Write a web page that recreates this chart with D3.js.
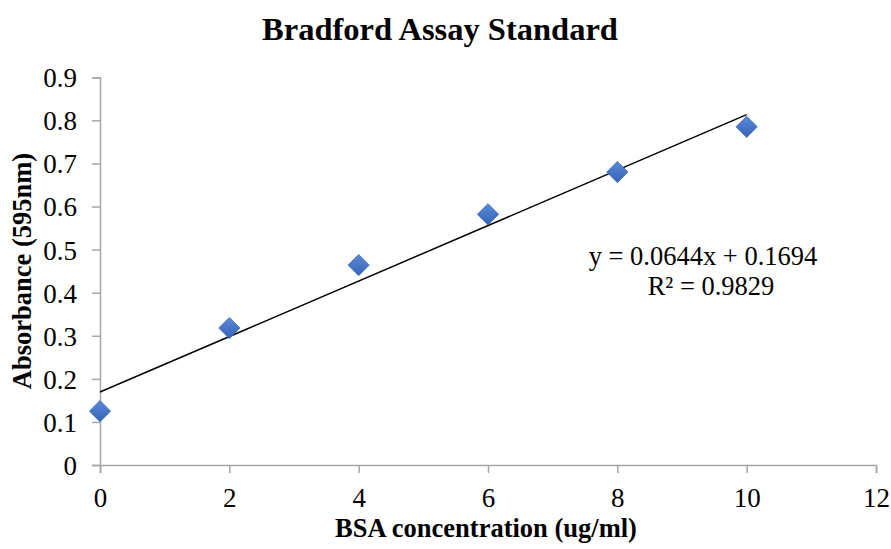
<!DOCTYPE html>
<html><head><meta charset="utf-8">
<script src="https://cdn.jsdelivr.net/npm/d3@7"></script>
<style>body{margin:0;background:#fff}svg{display:block}text{font-family:"Liberation Serif","Times New Roman",serif;fill:#000}</style>
</head><body><svg id="c" width="891" height="549"></svg>
<script>
const concentrations = [0, 2, 4, 6, 8, 10];
const absorbance = [0.125, 0.318, 0.464, 0.582, 0.680, 0.785];
const xTicks = [0, 2, 4, 6, 8, 10, 12];
const yTicks = [0, 0.1, 0.2, 0.3, 0.4, 0.5, 0.6, 0.7, 0.8, 0.9];
const trendSlope = 0.0644, trendIntercept = 0.1694, rSquared = 0.9829;
const trendRange = [0, 10];

const svg = d3.select("#c");
const x = d3.scaleLinear().domain([0, 12]).range([100, 876]);
const y = d3.scaleLinear().domain([0, 0.9]).range([465, 77.3]);
const axisColor = "#a6a6a6";

const xa = svg.append("g").attr("transform", `translate(0,${y(0)})`)
  .call(d3.axisBottom(x).tickValues(xTicks).tickSize(8).tickPadding(10).tickFormat(d3.format("d")));
const ya = svg.append("g").attr("transform", `translate(${x(0)},0)`)
  .call(d3.axisLeft(y).tickValues(yTicks).tickSize(8).tickPadding(15).tickFormat(d => d === 0 ? "0" : d3.format(".1f")(d)));
[xa, ya].forEach(g => {
  g.attr("font-size", null).attr("font-family", null);
  g.selectAll("path.domain").attr("stroke", axisColor).attr("stroke-width", 1.5);
  g.selectAll(".tick line").attr("stroke", axisColor).attr("stroke-width", 1.5);
  g.selectAll(".tick text").style("font-size", "27px").attr("fill", "#000");
});
ya.selectAll(".tick text").attr("dy", "0.35em");
xa.selectAll(".tick text").attr("dy", "0.9em");

// trendline
svg.append("line")
  .attr("x1", x(trendRange[0])).attr("y1", y(trendSlope * trendRange[0] + trendIntercept))
  .attr("x2", x(trendRange[1])).attr("y2", y(trendSlope * trendRange[1] + trendIntercept))
  .attr("stroke", "#000").attr("stroke-width", 1.5);

// markers
const defs = svg.append("defs");
const grad = defs.append("linearGradient").attr("id", "g").attr("x1", 0).attr("y1", 0).attr("x2", 0).attr("y2", 1);
grad.append("stop").attr("offset", "0%").attr("stop-color", "#5a8ad8");
grad.append("stop").attr("offset", "100%").attr("stop-color", "#3563b8");
svg.selectAll("path.pt").data(concentrations.map((c, i) => [c, absorbance[i]])).enter()
  .append("path").attr("class", "pt")
  .attr("d", d3.symbol().type(d3.symbolDiamond2).size(288))
  .attr("transform", d => `translate(${x(d[0])},${y(d[1])})`)
  .attr("fill", "url(#g)").attr("stroke", "#3d69b8").attr("stroke-width", 0.8);

// equation
svg.append("text").attr("x", 703).attr("y", 265).attr("text-anchor", "middle").style("font-size", "26.5px")
  .text(`y = ${trendSlope}x + ${trendIntercept}`);
svg.append("text").attr("x", 711).attr("y", 295).attr("text-anchor", "middle").style("font-size", "26.5px")
  .text(`R² = ${rSquared}`);

// titles
svg.append("text").attr("x", 440).attr("y", 40).attr("text-anchor", "middle").style("font-size", "32.5px").attr("font-weight", "bold")
  .text("Bradford Assay Standard");
svg.append("text").attr("x", 486).attr("y", 537).attr("text-anchor", "middle").style("font-size", "26.5px").attr("font-weight", "bold")
  .text("BSA concentration (ug/ml)");
svg.append("text").attr("transform", "translate(31,271) rotate(-90)").attr("text-anchor", "middle").style("font-size", "26.5px").attr("font-weight", "bold")
  .text("Absorbance (595nm)");
</script></body></html>
